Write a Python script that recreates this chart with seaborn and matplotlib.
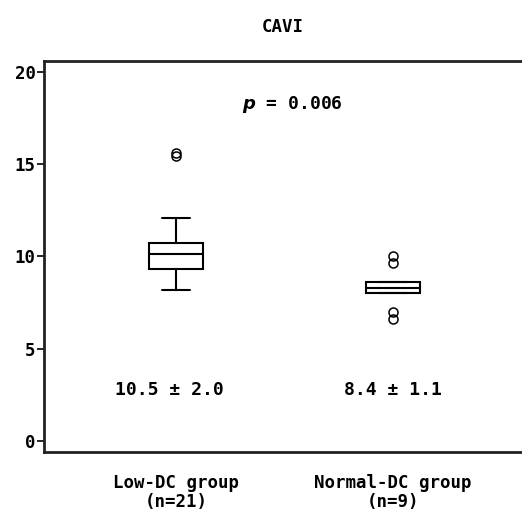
import numpy as np
import pandas as pd
import matplotlib
matplotlib.use("Agg")
import matplotlib.pyplot as plt
import seaborn as sns

# ---- data ----
groups = ["Low-DC group\n(n=21)", "Normal-DC group\n(n=9)"]
low_dc = [8.15, 8.6, 8.9, 9.1, 9.25, 9.33, 9.5, 9.7, 9.85, 10.0, 10.11,
          10.2, 10.35, 10.5, 10.6, 10.73, 11.0, 11.4, 12.08, 15.45, 15.62]
normal_dc = [6.6, 7.0, 8.03, 8.2, 8.31, 8.45, 8.6, 9.63, 10.03]
mean_labels = ["10.5 \u00b1 2.0", "8.4 \u00b1 1.1"]
p_label = "$p$ = 0.006"
title = "CAVI"
yticks = [0, 5, 10, 15, 20]

df = pd.DataFrame({
    "group": [groups[0]] * len(low_dc) + [groups[1]] * len(normal_dc),
    "CAVI": low_dc + normal_dc,
})

sns.set_theme(style="white")
plt.rcParams["font.family"] = ["DejaVu Sans Mono", "DejaVu Sans"]
plt.rcParams["font.weight"] = "bold"
plt.rcParams["mathtext.fontset"] = "dejavusans"
plt.rcParams["text.color"] = "black"
plt.rcParams["xtick.color"] = "black"
plt.rcParams["ytick.color"] = "black"

fig = plt.figure(figsize=(5.22, 5.20), dpi=100)
ax = fig.add_axes([44 / 522, (520 - 452) / 520, 1 - 44 / 522, (452 - 61) / 520])

sns.boxplot(
    data=df, x="group", y="CAVI", order=groups, ax=ax,
    width=0.25, color="white", linecolor="black", linewidth=1.5,
    whis=1.5,
    flierprops=dict(marker="o", markersize=6.5, markerfacecolor="none",
                    markeredgecolor="black", markeredgewidth=1.1),
)

ax.set_xlim(-0.608, 1.594)
ax.set_ylim(-0.6, 20.58)
ax.set_yticks(yticks)
ax.set_yticklabels([str(t) for t in yticks], fontsize=12.5, fontweight="bold")
ax.tick_params(axis="y", which="both", left=True, length=5, width=1.2,
               direction="out", pad=1, colors="black")
ax.tick_params(axis="x", bottom=False, pad=10, labelsize=12.5)
for lab in ax.get_xticklabels():
    lab.set_linespacing(1.05)
    lab.set_fontweight("bold")
ax.set_xlabel("")
ax.set_ylabel("")

for side in ["left", "top", "bottom"]:
    ax.spines[side].set_visible(True)
    ax.spines[side].set_color("#222222")
    ax.spines[side].set_linewidth(2.0)
ax.spines["right"].set_visible(False)

ax.set_title(title, fontsize=12.5, pad=21, fontweight="bold", color="black")

ax.text(0.535, 18.25, p_label, ha="center", va="center", fontsize=13,
        fontweight="bold")
for i, lab in enumerate(mean_labels):
    ax.text(i - 0.03 * (1 - i), 2.75, lab, ha="center", va="center",
            fontsize=13, fontweight="bold")

fig.savefig("out.png", dpi=100)
